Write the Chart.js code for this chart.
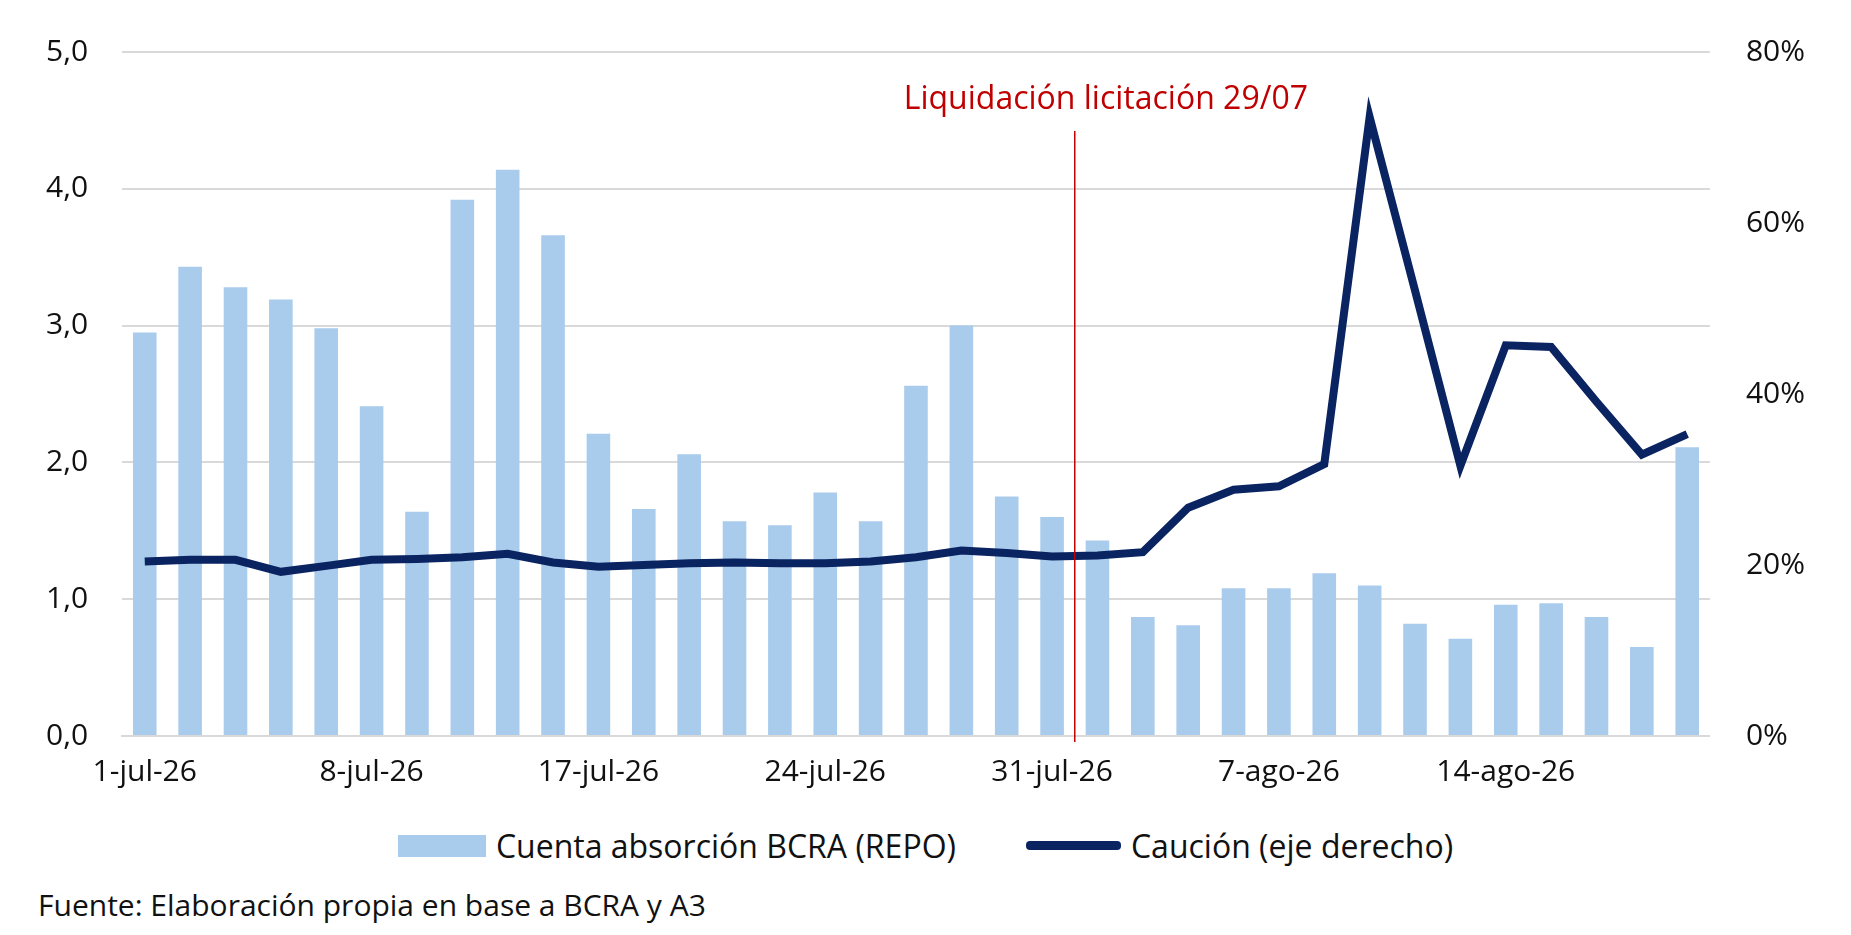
<!DOCTYPE html>
<html>
<head>
<meta charset="utf-8">
<script src="https://cdn.jsdelivr.net/npm/chart.js@4"></script>
<style>
  body { margin: 0; background: #fff; font-family: 'Open Sans', sans-serif; }
  #wrap { position: relative; width: 1851px; height: 800px; }
  .legend { position: absolute; top: 824px; left: 0; width: 1851px; display: flex; justify-content: center; gap: 70px; font-size: 32px; color: #111; }
  .legend span { display: flex; align-items: center; gap: 10px; }
  .box { width: 88px; height: 22px; background: #a9cbec; display: inline-block; }
  .ln { width: 95px; height: 9px; background: #0a2361; border-radius: 4px; display: inline-block; }
  .src { position: absolute; top: 884px; left: 38px; font-size: 30px; color: #111; }
</style>
</head>
<body>
<div id="wrap"><canvas id="c"></canvas></div>
<div class="legend">
  <span><i class="box"></i>Cuenta absorción BCRA (REPO)</span>
  <span><i class="ln"></i>Caución (eje derecho)</span>
</div>
<div class="src">Fuente: Elaboración propia en base a BCRA y A3</div>
<script>
const dates = ['1-jul-26','2-jul-26','3-jul-26','6-jul-26','7-jul-26',
  '8-jul-26','10-jul-26','13-jul-26','14-jul-26','16-jul-26',
  '17-jul-26','20-jul-26','21-jul-26','22-jul-26','23-jul-26',
  '24-jul-26','27-jul-26','28-jul-26','29-jul-26','30-jul-26',
  '31-jul-26','3-ago-26','4-ago-26','5-ago-26','6-ago-26',
  '7-ago-26','10-ago-26','11-ago-26','12-ago-26','13-ago-26',
  '14-ago-26','18-ago-26','19-ago-26','20-ago-26','21-ago-26'];
const shownLabels = ['1-jul-26','8-jul-26','17-jul-26','24-jul-26','31-jul-26','7-ago-26','14-ago-26'];
const repo = [2.95,3.43,3.28,3.19,2.98,2.41,1.64,3.92,4.14,3.66,
  2.21,1.66,2.06,1.57,1.54,1.78,1.57,2.56,3.00,1.75,
  1.60,1.43,0.87,0.81,1.08,1.08,1.19,1.10,0.82,0.71,
  0.96,0.97,0.87,0.65,2.11];
const caucion = [20.4,20.6,20.6,19.2,19.9,20.6,20.7,20.9,21.3,20.3,
  19.8,20.0,20.2,20.3,20.2,20.2,20.4,20.9,21.7,21.4,
  21.0,21.1,21.5,26.7,28.8,29.2,31.8,72.4,52.1,31.6,
  45.7,45.5,39.1,32.9,35.3];
const markerText = 'Liquidación licitación 29/07';
const markerAfterIndex = 20;

const markerPlugin = {
  id: 'marker',
  afterDatasetsDraw(chart) {
    const x = chart.scales.x;
    const px = (x.getPixelForValue(markerAfterIndex) + x.getPixelForValue(markerAfterIndex + 1)) / 2;
    const ctx = chart.ctx;
    ctx.save();
    ctx.strokeStyle = '#c00000';
    ctx.lineWidth = 1.5;
    ctx.beginPath();
    ctx.moveTo(px, 131);
    ctx.lineTo(px, chart.chartArea.bottom + 6);
    ctx.stroke();
    ctx.fillStyle = '#c00000';
    ctx.font = '32px "Open Sans"';
    ctx.textBaseline = 'middle';
    ctx.fillText(markerText, px - 171, 100);
    ctx.restore();
  }
};

new Chart(document.getElementById('c'), {
  data: {
    labels: dates,
    datasets: [
      { type: 'line', label: 'Caución (eje derecho)', data: caucion, yAxisID: 'y2',
        borderColor: '#0a2361', borderWidth: 8, pointRadius: 0, tension: 0, order: 0 },
      { type: 'bar', label: 'Cuenta absorción BCRA (REPO)', data: repo, yAxisID: 'y',
        backgroundColor: '#a9cbec', barPercentage: 0.52, categoryPercentage: 1, order: 1 }
    ]
  },
  options: {
    responsive: true,
    maintainAspectRatio: false,
    animation: false,
    layout: { padding: { top: 36, left: 12, right: 18, bottom: 0 } },
    plugins: { legend: { display: false }, tooltip: { enabled: false } },
    scales: {
      x: {
        grid: { display: false },
        border: { color: '#d9d9d9', width: 2 },
        ticks: {
          autoSkip: false, maxRotation: 0, color: '#111', font: { size: 30, family: 'Open Sans' }, padding: 10,
          callback: function (v) { const l = this.getLabelForValue(v); return shownLabels.includes(l) ? l : ''; }
        }
      },
      y: {
        position: 'left', min: 0, max: 5,
        grid: { color: '#d9d9d9', lineWidth: 2, drawTicks: false },
        border: { display: false },
        ticks: { stepSize: 1, color: '#111', font: { size: 30, family: 'Open Sans' }, padding: 34,
          callback: v => v.toFixed(1).replace('.', ',') }
      },
      y2: {
        position: 'right', min: 0, max: 80,
        grid: { display: false },
        border: { display: false },
        ticks: { stepSize: 20, color: '#111', font: { size: 30, family: 'Open Sans' }, padding: 28,
          callback: v => v + '%' }
      }
    }
  },
  plugins: [markerPlugin]
});
</script>
</body>
</html>
